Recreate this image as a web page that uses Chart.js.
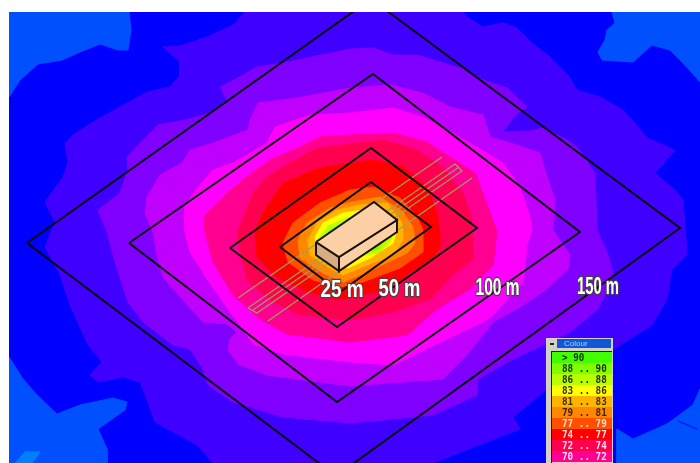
<!DOCTYPE html>
<html>
<head>
<meta charset="utf-8">
<title>Noise contour map</title>
<script src="https://cdn.jsdelivr.net/npm/chart.js@4"></script>
<style>
  html, body { margin: 0; padding: 0; background: #fff; overflow: hidden; }
  canvas { display: block; filter: blur(0.45px); }
</style>
</head>
<body>
<canvas id="map" width="700" height="463"></canvas>
<script>
// contour bands, outer to inner, [x, y] in map units
var frame = [[9,12],[700,12],[700,463],[9,463],[9,12]];
var paleTopLeft = [[9,12],[129,12],[131,30],[128,50],[118,50],[100,44],[80,52],[62,60],[38,64],[20,80],[9,97],[9,12]];
var paleTopRight = [[612,12],[615,23],[607,30],[605,40],[598,52],[602,60],[633,62],[652,45],[670,50],[683,63],[700,82],[700,12],[612,12]];
var paleBottomLeft = [[9,357],[23,379],[37,395],[57,414],[80,405],[113,398],[127,402],[125,410],[98,429],[107,449],[107,463],[9,463],[9,357]];
var paleBottomRight = [[700,389],[693,405],[667,424],[633,439],[617,429],[617,463],[700,463],[700,389]];
var palestBottomLeft = [[25,452],[40,452],[32,463],[15,463],[25,452]];
var blueSpike = [[678,421],[697,429]];
var band4000 = [[245,12],[233,25],[207,37],[180,46],[163,47],[180,62],[180,75],[170,87],[147,92],[120,107],[93,122],[73,135],[65,143],[68,163],[63,177],[45,202],[55,222],[45,247],[60,275],[70,305],[88,345],[102,362],[90,375],[98,382],[123,377],[140,382],[148,402],[155,422],[177,434],[197,445],[213,463],[433,463],[520,429],[513,417],[547,389],[617,347],[652,325],[667,299],[672,269],[687,254],[683,200],[675,190],[655,173],[675,150],[647,138],[635,123],[623,110],[600,97],[577,90],[568,75],[550,57],[532,43],[517,28],[503,23],[483,27],[467,17],[463,12],[245,12]];
var band8000 = [[350,49],[283,63],[257,67],[238,78],[220,87],[227,100],[210,113],[185,120],[158,125],[143,140],[127,157],[128,170],[120,193],[98,210],[107,232],[115,262],[128,302],[143,322],[173,345],[190,349],[203,369],[208,385],[233,402],[283,417],[350,423],[433,415],[477,395],[478,379],[513,359],[570,332],[598,309],[605,295],[613,272],[607,252],[597,230],[595,173],[577,147],[567,140],[543,128],[530,131],[503,132],[515,115],[527,107],[507,88],[483,80],[460,68],[440,62],[417,55],[393,55],[373,48],[350,49]];
var bandC000 = [[350,88],[297,98],[258,103],[250,120],[248,130],[213,143],[190,150],[182,163],[160,175],[147,197],[145,213],[153,232],[157,255],[163,277],[180,297],[203,322],[227,324],[237,332],[230,339],[228,350],[238,364],[267,375],[350,386],[443,379],[467,355],[493,322],[520,307],[547,289],[568,269],[570,255],[553,230],[555,200],[547,177],[540,153],[517,145],[490,137],[483,115],[450,107],[423,93],[390,85],[350,88]];
var bandMagenta = [[350,113],[310,115],[275,127],[267,143],[233,163],[213,170],[197,188],[185,207],[185,232],[190,252],[207,279],[223,302],[247,335],[253,344],[283,354],[350,362],[393,365],[430,347],[483,322],[493,315],[523,282],[527,245],[532,230],[530,217],[520,187],[503,163],[487,153],[447,130],[423,117],[393,108],[350,113]];
var band7072 = [[350,135],[320,137],[300,147],[270,160],[245,178],[225,195],[205,215],[205,232],[213,262],[233,295],[260,319],[287,334],[350,342],[407,335],[437,309],[470,289],[493,265],[497,232],[488,207],[475,173],[450,157],[427,142],[393,133],[350,135]];
var band7274 = [[350,144],[317,148],[290,163],[267,177],[253,193],[245,213],[237,232],[240,250],[247,280],[270,300],[300,315],[350,320],[393,312],[430,299],[453,275],[473,259],[472,232],[472,220],[463,193],[443,167],[417,150],[383,140],[350,144]];
var band7477 = [[353,163],[320,168],[283,183],[263,213],[255,233],[257,257],[277,277],[303,290],[337,300],[390,289],[410,272],[430,262],[440,247],[440,232],[437,213],[427,187],[403,167],[373,160],[353,163]];
var band7779 = [[350,190],[320,203],[293,223],[283,243],[288,262],[313,280],[340,287],[360,283],[400,268],[423,252],[423,230],[417,217],[400,198],[373,187],[350,190]];
var band7981 = [[352,202],[330,208],[307,223],[298,240],[300,258],[323,273],[343,282],[367,272],[407,253],[415,243],[413,227],[403,212],[380,197],[352,202]];
var band8183 = [[337,210],[317,223],[308,240],[310,255],[330,268],[343,275],[367,265],[393,255],[403,240],[402,223],[387,203],[360,205],[337,210]];
var band8386 = [[343,213],[323,223],[315,237],[317,253],[337,265],[348,268],[370,258],[393,243],[397,230],[375,208],[343,213]];
var band8688 = [[347,218],[328,226],[318,240],[340,260],[380,252],[392,238],[380,215],[347,218]];
var band8890 = [[345,222],[330,230],[322,240],[340,258],[378,249],[386,238],[345,222]];

// distance rings, 25 / 50 / 100 / 150 m
var ring25 = [[280,247],[371,182],[431,227],[340,292],[280,247]];
var ring50 = [[230,248],[371,148],[477,228],[337,327],[230,248]];
var ring100 = [[129,243],[373,74],[580,232],[337,402],[129,243]];
var ring150 = [[27,243],[371,-1],[680,228],[336,476],[27,243]];

// road lines either side of the building
var roadA = [[238,298],[442,157]];
var roadB = [[248,308],[455,164],[462,171],[257,313],[248,308]];
var roadC = [[253,310],[459,167]];
var roadD = [[268,321],[472,178]];

// building
var roofTop = [[316,242],[374,202],[397,220],[339,257],[316,242]];
var wallLeft = [[316,242],[339,257],[339,271],[316,255],[316,242]];
var wallRight = [[339,257],[397,220],[397,232],[339,271],[339,257]];

var ringLabels = ['25 m', '50 m', '100 m', '150 m'];
var ringLabelX = [342, 399.5, 497.5, 598];
var ringLabelY = [290, 289, 288, 287];
var ringLabelWidth = [43, 42, 44, 42];

var legendTitle = 'Colour';
var legendLabels = ['> 90', '88 .. 90', '86 .. 88', '83 .. 86', '81 .. 83', '79 .. 81', '77 .. 79', '74 .. 77', '72 .. 74', '70 .. 72'];
var legendColours = ['#40ff00', '#80ff00', '#b8ff00', '#ffff00', '#ffb400', '#ff8800', '#ff5000', '#ff0000', '#ff0050', '#ff0090'];
var legendInk = ['#203000', '#203000', '#203000', '#303000', '#403000', '#402000', '#ffe0d0', '#ffe0e0', '#ffe0e8', '#ffe0f0'];

function pts(list) {
    return list.map(function (p) { return { x: p[0], y: p[1] }; });
}
function area(list, colour) {
    return { type: 'scatter', showLine: true, data: pts(list), fill: 'shape', backgroundColor: colour, borderColor: colour, borderWidth: 1, pointRadius: 0, clip: 0 };
}
function stroke(list, colour, width) {
    return { type: 'scatter', showLine: true, data: pts(list), fill: false, borderColor: colour, borderWidth: width, pointRadius: 0, clip: 0 };
}
function solid(list, colour) {
    return { type: 'scatter', showLine: true, data: pts(list), fill: 'shape', backgroundColor: colour, borderColor: '#1a1010', borderWidth: 2, pointRadius: 0, clip: 0 };
}

// labels and the legend window are drawn on top of the datasets
var overlay = {
    id: 'overlay',
    afterDatasetsDraw: function (chart) {
        var c = chart.ctx, sx = chart.scales.x, sy = chart.scales.y;
        c.save();
        c.textAlign = 'center';
        c.textBaseline = 'middle';
        ringLabels.forEach(function (t, i) {
            var px = sx.getPixelForValue(ringLabelX[i]), py = sy.getPixelForValue(ringLabelY[i]);
            c.font = "bold 24px 'Liberation Sans'";
            c.lineJoin = 'round';
            c.lineWidth = 2.5;
            c.strokeStyle = '#444';
            c.strokeText(t, px, py, ringLabelWidth[i]);
            c.fillStyle = '#fff';
            c.fillText(t, px, py, ringLabelWidth[i]);
        });
        // legend window
        c.fillStyle = '#d4d0c8';
        c.fillRect(546, 338, 67, 125);
        c.fillStyle = '#1058d8';
        c.fillRect(557, 339, 54, 9);
        c.fillStyle = '#222';
        c.fillRect(550, 343, 4, 2);
        c.font = "8px 'Liberation Sans'";
        c.fillStyle = '#b0d0ff';
        c.textAlign = 'left';
        c.fillText(legendTitle, 564, 344);
        c.fillStyle = '#222';
        c.fillRect(551, 351, 61, 1);
        c.fillRect(551, 351, 1, 112);
        c.font = "bold 10.5px 'DejaVu Sans Mono'";
        legendLabels.forEach(function (t, i) {
            var y = 352 + i * 11;
            c.fillStyle = legendColours[i];
            c.fillRect(552, y, 60, 11);
            c.fillStyle = legendInk[i];
            c.fillText(t, 562, y + 6, t.length * 5.6);
        });
        c.restore();
    }
};

// first dataset in the list is painted last, so the stack is reversed
var layers = [
    area(frame, '#0000ff'),
    area(paleTopLeft, '#0050ff'),
    area(paleTopRight, '#0050ff'),
    area(paleBottomLeft, '#0050ff'),
    area(paleBottomRight, '#0050ff'),
    area(palestBottomLeft, '#0080ff'),
    stroke(blueSpike, '#0020ff', 1.5),
    area(band4000, '#4000ff'),
    area(band8000, '#8000ff'),
    area(bandC000, '#c000ff'),
    area(bandMagenta, '#ff00ff'),
    area(band7072, '#ff0090'),
    area(band7274, '#ff0050'),
    area(band7477, '#ff0000'),
    area(band7779, '#ff5000'),
    area(band7981, '#ff8800'),
    area(band8183, '#ffb400'),
    area(band8386, '#ffff00'),
    area(band8688, '#b8ff00'),
    area(band8890, '#80ff00'),
    stroke(roadA, '#a0a060', 1.2),
    stroke(roadB, '#a0a060', 1.2),
    stroke(roadC, '#a0a060', 1.2),
    stroke(roadD, '#a0a060', 1.2),
    stroke(ring150, '#080808', 2),
    stroke(ring100, '#080808', 2),
    stroke(ring50, '#080808', 2),
    stroke(ring25, '#080808', 2),
    solid(wallLeft, '#d8ac84'),
    solid(wallRight, '#fcd0a4'),
    solid(roofTop, '#fcd0a4')
].reverse();

new Chart(document.getElementById('map'), {
    type: 'scatter',
    data: { datasets: layers },
    options: {
        responsive: false,
        animation: false,
        layout: { padding: { left: 9, top: 12, right: 0, bottom: 0 } },
        plugins: { legend: { display: false }, tooltip: { enabled: false }, title: { display: false } },
        scales: {
            x: { type: 'linear', display: false, min: 9, max: 700 },
            y: { type: 'linear', display: false, min: 12, max: 463, reverse: true }
        }
    },
    plugins: [overlay]
});
</script>
</body>
</html>
